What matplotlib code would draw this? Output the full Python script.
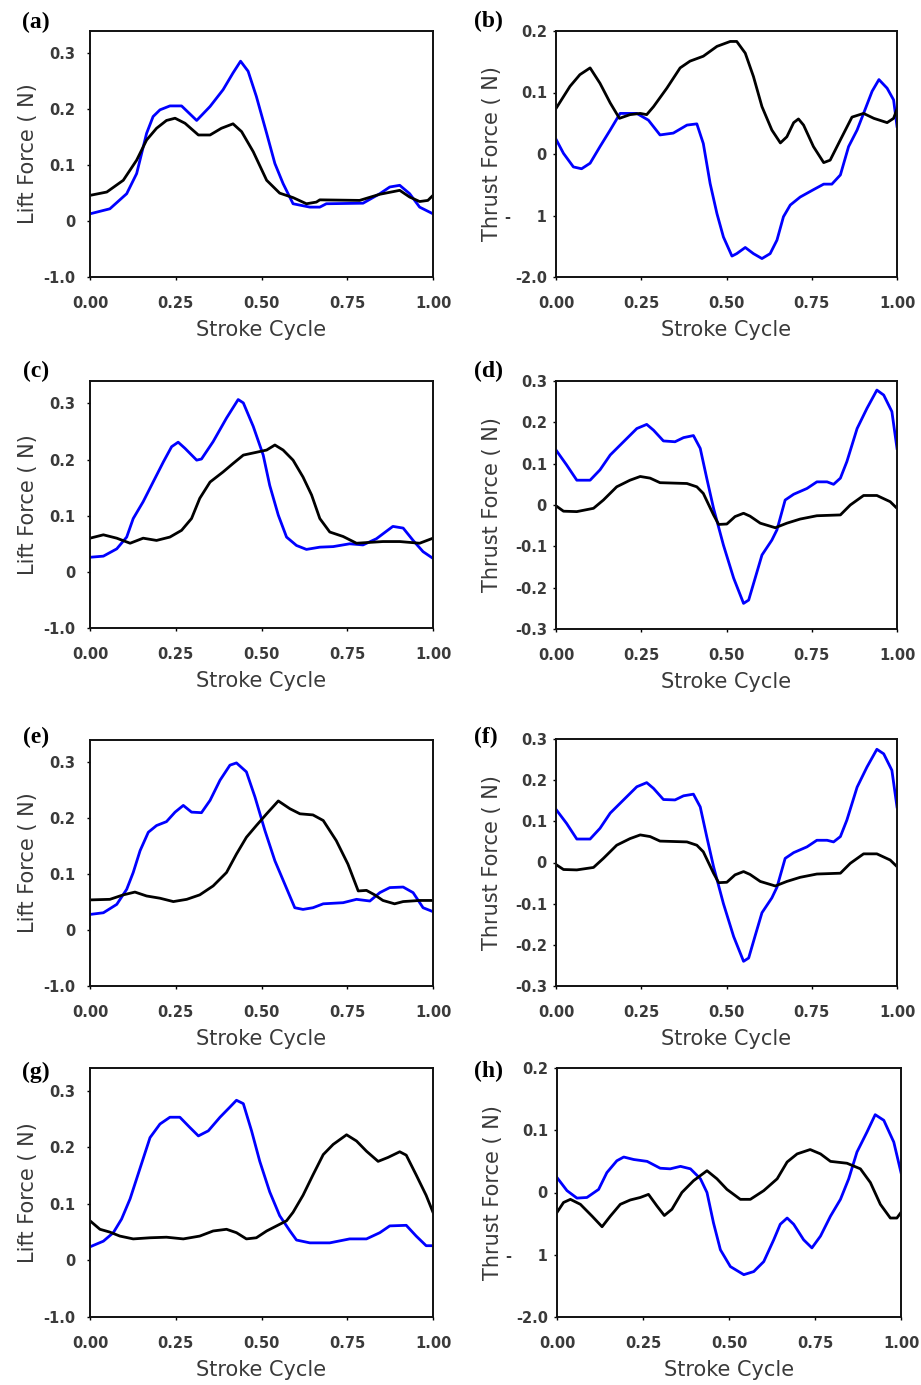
import numpy as np
import matplotlib
matplotlib.use("Agg")
import matplotlib.pyplot as plt

# ---- data (x = stroke cycle, y = force in plotted units) ----
# (a) lift
a_blue_x = [0.0, 0.058, 0.107, 0.136, 0.165, 0.184, 0.204, 0.233, 0.267, 0.311, 0.35, 0.388, 0.417,
            0.439, 0.461, 0.485, 0.515, 0.539, 0.563, 0.592, 0.641, 0.67, 0.689, 0.796, 0.845, 0.874,
            0.903, 0.932, 0.961, 1.0]
a_blue_y = [0.013, 0.022, 0.049, 0.085, 0.157, 0.187, 0.199, 0.206, 0.206, 0.18, 0.205, 0.235, 0.265,
            0.286, 0.268, 0.223, 0.157, 0.103, 0.067, 0.031, 0.025, 0.025, 0.031, 0.032, 0.049, 0.061,
            0.064, 0.049, 0.025, 0.013]
a_black_x = [0.0, 0.049, 0.097, 0.136, 0.165, 0.194, 0.223, 0.248, 0.277, 0.316, 0.35, 0.383, 0.417,
             0.442, 0.476, 0.515, 0.553, 0.592, 0.631, 0.66, 0.67, 0.786, 0.845, 0.903, 0.932, 0.961,
             0.985, 1.0]
a_black_y = [0.046, 0.052, 0.073, 0.109, 0.145, 0.166, 0.18, 0.184, 0.175, 0.154, 0.154, 0.166, 0.174,
             0.16, 0.124, 0.073, 0.05, 0.042, 0.031, 0.034, 0.038, 0.037, 0.048, 0.055, 0.043, 0.035,
             0.037, 0.046]

# (b) thrust
b_blue_x = [0.0, 0.022, 0.051, 0.075, 0.1, 0.129, 0.159, 0.188, 0.237, 0.271, 0.305, 0.344, 0.384,
            0.413, 0.432, 0.452, 0.472, 0.491, 0.516, 0.53, 0.555, 0.579, 0.604, 0.628, 0.648, 0.667,
            0.687, 0.716, 0.755, 0.785, 0.809, 0.834, 0.858, 0.883, 0.902, 0.927, 0.947, 0.971, 0.99, 1.0]
b_blue_y = [0.024, 0.001, -0.021, -0.024, -0.015, 0.012, 0.039, 0.066, 0.066, 0.055, 0.031, 0.034,
            0.047, 0.049, 0.017, -0.048, -0.097, -0.135, -0.166, -0.162, -0.152, -0.162, -0.17, -0.162,
            -0.14, -0.102, -0.083, -0.07, -0.058, -0.049, -0.049, -0.034, 0.012, 0.039, 0.066, 0.102,
            0.121, 0.107, 0.088, 0.045]
b_black_x = [0.0, 0.041, 0.07, 0.1, 0.129, 0.159, 0.186, 0.217, 0.247, 0.266, 0.286, 0.325, 0.364,
             0.393, 0.432, 0.472, 0.511, 0.53, 0.555, 0.579, 0.604, 0.633, 0.658, 0.677, 0.697, 0.711,
             0.726, 0.755, 0.785, 0.804, 0.834, 0.868, 0.902, 0.932, 0.971, 0.99, 1.0]
b_black_y = [0.074, 0.11, 0.129, 0.14, 0.115, 0.083, 0.058, 0.064, 0.066, 0.064, 0.077, 0.107, 0.14,
             0.151, 0.159, 0.175, 0.183, 0.183, 0.164, 0.126, 0.077, 0.039, 0.018, 0.028, 0.051, 0.057,
             0.047, 0.012, -0.014, -0.01, 0.023, 0.06, 0.066, 0.058, 0.051, 0.058, 0.073]

# (c) lift
c_blue_x = [0.0, 0.039, 0.078, 0.107, 0.126, 0.155, 0.184, 0.214, 0.238, 0.257, 0.277, 0.311, 0.325,
            0.359, 0.398, 0.432, 0.447, 0.476, 0.505, 0.524, 0.549, 0.573, 0.602, 0.631, 0.67, 0.709,
            0.757, 0.796, 0.835, 0.883, 0.913, 0.942, 0.971, 1.0]
c_blue_y = [0.026, 0.028, 0.041, 0.062, 0.095, 0.125, 0.16, 0.196, 0.223, 0.231, 0.22, 0.199, 0.201,
            0.232, 0.274, 0.307, 0.301, 0.259, 0.208, 0.154, 0.101, 0.062, 0.047, 0.04, 0.044, 0.045,
            0.05, 0.048, 0.059, 0.081, 0.078, 0.056, 0.036, 0.024]
c_black_x = [0.0, 0.039, 0.078, 0.117, 0.155, 0.194, 0.233, 0.267, 0.296, 0.32, 0.35, 0.388, 0.417,
             0.447, 0.485, 0.515, 0.539, 0.563, 0.592, 0.621, 0.646, 0.67, 0.699, 0.738, 0.777, 0.854,
             0.903, 0.961, 1.0]
c_black_y = [0.06, 0.066, 0.06, 0.051, 0.06, 0.056, 0.062, 0.074, 0.095, 0.131, 0.16, 0.178, 0.193,
             0.208, 0.213, 0.217, 0.226, 0.217, 0.199, 0.169, 0.137, 0.095, 0.071, 0.063, 0.051, 0.054,
             0.054, 0.051, 0.06]

# (d) thrust
d_blue_x = [0.0, 0.031, 0.061, 0.1, 0.129, 0.159, 0.198, 0.237, 0.266, 0.286, 0.315, 0.349, 0.374,
            0.403, 0.423, 0.442, 0.462, 0.491, 0.521, 0.55, 0.565, 0.584, 0.604, 0.633, 0.648, 0.672,
            0.697, 0.736, 0.765, 0.795, 0.814, 0.834, 0.853, 0.883, 0.912, 0.941, 0.961, 0.985, 1.0]
d_blue_y = [0.133, 0.097, 0.06, 0.06, 0.085, 0.121, 0.153, 0.185, 0.195, 0.181, 0.155, 0.153, 0.163,
            0.168, 0.137, 0.065, -0.008, -0.097, -0.177, -0.238, -0.23, -0.177, -0.121, -0.085, -0.06,
            0.012, 0.026, 0.04, 0.056, 0.056, 0.05, 0.065, 0.105, 0.185, 0.234, 0.278, 0.266, 0.226,
            0.137]
d_black_x = [0.0, 0.022, 0.061, 0.11, 0.139, 0.178, 0.217, 0.247, 0.276, 0.305, 0.384, 0.413, 0.432,
             0.462, 0.477, 0.501, 0.525, 0.55, 0.569, 0.599, 0.643, 0.677, 0.716, 0.765, 0.834, 0.863,
             0.902, 0.941, 0.98, 1.0]
d_black_y = [-0.002, -0.015, -0.016, -0.008, 0.012, 0.044, 0.06, 0.069, 0.065, 0.054, 0.052, 0.044,
             0.028, -0.024, -0.047, -0.046, -0.028, -0.02, -0.027, -0.044, -0.055, -0.044, -0.034,
             -0.026, -0.024, 0.0, 0.023, 0.023, 0.008, -0.008]

# (e) lift
e_blue_x = [0.0, 0.039, 0.078, 0.107, 0.126, 0.146, 0.17, 0.194, 0.223, 0.248, 0.272, 0.296, 0.325,
            0.35, 0.379, 0.408, 0.427, 0.456, 0.481, 0.51, 0.539, 0.568, 0.597, 0.621, 0.65, 0.68,
            0.738, 0.777, 0.816, 0.845, 0.874, 0.913, 0.942, 0.971, 1.0]
e_blue_y = [0.028, 0.031, 0.046, 0.073, 0.103, 0.142, 0.175, 0.187, 0.194, 0.211, 0.223, 0.211, 0.21,
            0.232, 0.268, 0.295, 0.299, 0.283, 0.238, 0.178, 0.124, 0.082, 0.04, 0.037, 0.04, 0.047,
            0.049, 0.055, 0.052, 0.067, 0.076, 0.077, 0.067, 0.04, 0.033]
e_black_x = [0.0, 0.058, 0.097, 0.131, 0.165, 0.204, 0.243, 0.282, 0.32, 0.359, 0.398, 0.427, 0.456,
             0.485, 0.515, 0.549, 0.583, 0.612, 0.65, 0.68, 0.718, 0.752, 0.782, 0.806, 0.83, 0.854,
             0.888, 0.913, 0.961, 1.0]
e_black_y = [0.054, 0.055, 0.063, 0.068, 0.061, 0.057, 0.051, 0.055, 0.063, 0.079, 0.103, 0.136, 0.166,
             0.187, 0.208, 0.231, 0.217, 0.208, 0.206, 0.196, 0.16, 0.118, 0.07, 0.071, 0.063, 0.053,
             0.047, 0.051, 0.053, 0.053]

# (f) thrust
f_blue_x = [0.0, 0.031, 0.061, 0.1, 0.129, 0.159, 0.198, 0.237, 0.266, 0.286, 0.315, 0.349, 0.374,
            0.403, 0.423, 0.442, 0.462, 0.491, 0.521, 0.55, 0.565, 0.584, 0.604, 0.633, 0.648, 0.672,
            0.697, 0.736, 0.765, 0.795, 0.814, 0.834, 0.853, 0.883, 0.912, 0.941, 0.961, 0.985, 1.0]
f_blue_y = [0.129, 0.095, 0.057, 0.057, 0.083, 0.12, 0.152, 0.184, 0.194, 0.18, 0.153, 0.152, 0.162,
            0.166, 0.135, 0.063, -0.01, -0.1, -0.18, -0.24, -0.232, -0.178, -0.122, -0.086, -0.06, 0.01,
            0.024, 0.038, 0.054, 0.054, 0.05, 0.063, 0.103, 0.183, 0.232, 0.275, 0.264, 0.224, 0.135]
f_black_x = [0.0, 0.022, 0.061, 0.11, 0.139, 0.178, 0.217, 0.247, 0.276, 0.305, 0.384, 0.413, 0.432,
             0.462, 0.477, 0.501, 0.525, 0.55, 0.569, 0.599, 0.643, 0.677, 0.716, 0.765, 0.834, 0.863,
             0.902, 0.941, 0.98, 1.0]
f_black_y = [-0.005, -0.017, -0.018, -0.012, 0.01, 0.042, 0.058, 0.067, 0.063, 0.052, 0.05, 0.042,
             0.026, -0.026, -0.049, -0.048, -0.03, -0.022, -0.029, -0.046, -0.057, -0.046, -0.036,
             -0.028, -0.026, -0.002, 0.021, 0.021, 0.006, -0.01]

# (g) lift
g_blue_x = [0.0, 0.039, 0.068, 0.092, 0.117, 0.146, 0.175, 0.204, 0.233, 0.262, 0.291, 0.316, 0.345,
            0.379, 0.408, 0.427, 0.447, 0.471, 0.495, 0.524, 0.553, 0.583, 0.602, 0.641, 0.699, 0.757,
            0.806, 0.845, 0.874, 0.922, 0.951, 0.98, 1.0]
g_blue_y = [0.024, 0.034, 0.049, 0.073, 0.109, 0.163, 0.217, 0.241, 0.253, 0.253, 0.235, 0.22, 0.229,
            0.253, 0.271, 0.283, 0.277, 0.229, 0.175, 0.121, 0.079, 0.052, 0.036, 0.031, 0.031, 0.038,
            0.038, 0.049, 0.061, 0.062, 0.043, 0.026, 0.026]
g_black_x = [0.0, 0.029, 0.058, 0.087, 0.126, 0.175, 0.223, 0.272, 0.32, 0.359, 0.398, 0.427, 0.456,
             0.485, 0.515, 0.544, 0.573, 0.592, 0.621, 0.65, 0.68, 0.709, 0.748, 0.777, 0.806, 0.84,
             0.869, 0.903, 0.922, 0.951, 0.98, 1.0]
g_black_y = [0.07, 0.055, 0.05, 0.043, 0.038, 0.04, 0.041, 0.038, 0.043, 0.052, 0.055, 0.049, 0.038,
             0.04, 0.052, 0.061, 0.07, 0.085, 0.115, 0.151, 0.187, 0.205, 0.222, 0.211, 0.193, 0.175,
             0.182, 0.192, 0.186, 0.151, 0.115, 0.085]

# (h) thrust
h_blue_x = [0.0, 0.029, 0.058, 0.087, 0.121, 0.145, 0.174, 0.194, 0.223, 0.262, 0.3, 0.329, 0.359,
            0.388, 0.417, 0.436, 0.455, 0.475, 0.504, 0.543, 0.572, 0.601, 0.63, 0.649, 0.669, 0.688,
            0.717, 0.741, 0.766, 0.795, 0.824, 0.848, 0.872, 0.901, 0.925, 0.95, 0.979, 1.0]
h_blue_y = [0.024, 0.003, -0.009, -0.008, 0.005, 0.032, 0.051, 0.057, 0.053, 0.05, 0.039, 0.038, 0.042,
            0.038, 0.022, 0.0, -0.049, -0.092, -0.119, -0.132, -0.127, -0.111, -0.076, -0.051, -0.041,
            -0.051, -0.076, -0.089, -0.07, -0.038, -0.011, 0.022, 0.065, 0.097, 0.125, 0.116, 0.081,
            0.032]
h_black_x = [0.0, 0.019, 0.039, 0.068, 0.102, 0.131, 0.155, 0.184, 0.213, 0.242, 0.266, 0.291, 0.312,
             0.334, 0.363, 0.397, 0.436, 0.465, 0.494, 0.533, 0.562, 0.601, 0.64, 0.669, 0.698, 0.736,
             0.766, 0.795, 0.843, 0.882, 0.911, 0.94, 0.969, 0.988, 1.0]
h_black_y = [-0.032, -0.016, -0.011, -0.019, -0.038, -0.055, -0.038, -0.019, -0.012, -0.008, -0.003,
             -0.022, -0.037, -0.027, 0.0, 0.019, 0.035, 0.022, 0.005, -0.011, -0.011, 0.003, 0.022,
             0.049, 0.062, 0.069, 0.062, 0.05, 0.047, 0.038, 0.016, -0.019, -0.041, -0.041, -0.032]

x_ticks = [0.0, 0.25, 0.5, 0.75, 1.0]
x_ticklabels = ["0.00", "0.25", "0.50", "0.75", "1.00"]
lift_ticks = [-0.1, 0.0, 0.1, 0.2, 0.3]
lift_ticklabels = ["-1.0", "0", "0.1", "0.2", "0.3"]
thrust2_ticks = [-0.2, -0.1, 0.0, 0.1, 0.2]
thrust2_ticklabels = ["-2.0", "-     1", "0", "0.1", "0.2"]
thrust3_ticks = [-0.3, -0.2, -0.1, 0.0, 0.1, 0.2, 0.3]
thrust3_ticklabels = ["-0.3", "-0.2", "-0.1", "0", "0.1", "0.2", "0.3"]

W, H = 921, 1385
TXT = "#3a3a3a"

fig = plt.figure(figsize=(W / 100, H / 100), dpi=100)


def add_axes(left, top, right, bottom):
    return fig.add_axes([left / W, 1 - bottom / H, (right - left) / W, (bottom - top) / H])


panels = [
    # tag, pixel box, blue, black, kind, tag position
    ("(a)", (90, 31, 433, 277), (a_blue_x, a_blue_y), (a_black_x, a_black_y), "lift", (36, 22)),
    ("(b)", (556, 31, 897, 277), (b_blue_x, b_blue_y), (b_black_x, b_black_y), "thrust2", (488, 21)),
    ("(c)", (90, 381, 433, 628), (c_blue_x, c_blue_y), (c_black_x, c_black_y), "lift", (36, 371)),
    ("(d)", (556, 381, 897, 629), (d_blue_x, d_blue_y), (d_black_x, d_black_y), "thrust3", (488, 371)),
    ("(e)", (90, 740, 433, 986), (e_blue_x, e_blue_y), (e_black_x, e_black_y), "lift", (36, 737)),
    ("(f)", (556, 739, 897, 986), (f_blue_x, f_blue_y), (f_black_x, f_black_y), "thrust3", (486, 737)),
    ("(g)", (90, 1068, 433, 1317), (g_blue_x, g_blue_y), (g_black_x, g_black_y), "lift", (36, 1072)),
    ("(h)", (557, 1068, 901, 1317), (h_blue_x, h_blue_y), (h_black_x, h_black_y), "thrust2", (488, 1071)),
]

for tag, box, blue, black, kind, tagpos in panels:
    l, t, r, b = box
    ax = add_axes(l, t, r, b)
    ax.plot(blue[0], blue[1], color="#0000ff", lw=2.0, solid_joinstyle="round")
    ax.plot(black[0], black[1], color="black", lw=2.0, solid_joinstyle="round")
    ax.set_xlim(0, 1)
    ax.set_xticks(x_ticks)
    ax.set_xticklabels(x_ticklabels)
    if kind == "lift":
        ax.set_ylim(-0.1, 0.34)
        ax.set_yticks(lift_ticks)
        ax.set_yticklabels(lift_ticklabels)
        ax.set_ylabel("Lift Force ( N)", fontsize=15, color=TXT)
        ypad = 8
        ylab_x = -52
    elif kind == "thrust2":
        ax.set_ylim(-0.2, 0.2)
        ax.set_yticks(thrust2_ticks)
        ax.set_yticklabels(thrust2_ticklabels)
        ax.set_ylabel("Thrust Force ( N)", fontsize=15, color=TXT)
        ypad = 4
        ylab_x = -54
    else:
        ax.set_ylim(-0.3, 0.3)
        ax.set_yticks(thrust3_ticks)
        ax.set_yticklabels(thrust3_ticklabels)
        ax.set_ylabel("Thrust Force ( N)", fontsize=15, color=TXT)
        ypad = 4
        ylab_x = -54
    ax.set_xlabel("Stroke Cycle", fontsize=15, color=TXT)
    w_px, h_px = r - l, b - t
    ax.yaxis.set_label_coords(ylab_x / w_px, 0.5)
    ax.xaxis.set_label_coords(0.5, -43 / h_px)
    ax.tick_params(axis="both", direction="out", length=2.5, width=1.0, color="black",
                   labelsize=10.5, labelcolor=TXT)
    ax.tick_params(axis="x", pad=11)
    ax.tick_params(axis="y", pad=ypad)
    for lab in ax.get_xticklabels() + ax.get_yticklabels():
        lab.set_fontweight("bold")
    for sp in ax.spines.values():
        sp.set_linewidth(1.4)
        sp.set_color("#111111")
    fig.text(tagpos[0] / W, 1 - tagpos[1] / H, tag, fontsize=17, fontweight="bold",
             family="Liberation Serif", ha="center", va="center")

fig.savefig("out.png", dpi=100)
